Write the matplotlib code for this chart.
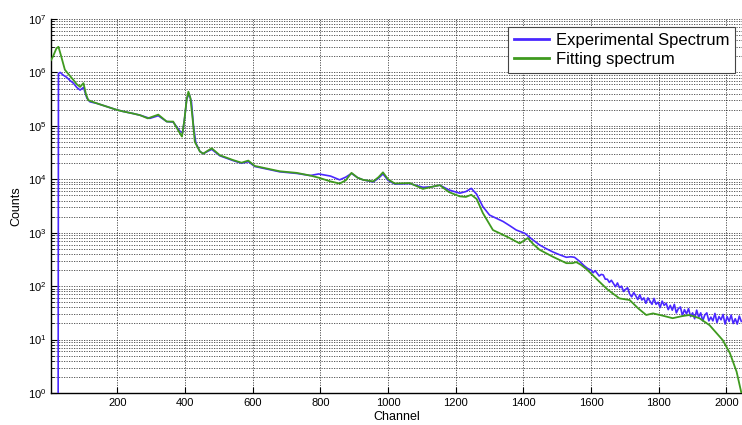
import numpy as np
import matplotlib
matplotlib.use("Agg")
import matplotlib.pyplot as plt
from matplotlib.ticker import FixedLocator, NullFormatter

# -------- Data (channel, log10 counts) --------
# experimental spectrum, smooth part up to channel 1590
exp_channel = [
    25, 26, 31, 40, 50, 60, 70, 80, 90, 100, 110, 119, 140, 169, 198, 217,
    247, 267, 296, 321, 346, 365, 385, 393, 400, 405, 412, 419, 425, 432,
    444, 454, 466, 479, 503, 542, 567, 587, 606, 650, 680, 730, 770, 795,
    830, 857, 875, 892, 910, 926, 956, 972, 985, 1000, 1020, 1064, 1103,
    1130, 1153, 1180, 1212, 1230, 1246, 1262, 1280, 1300, 1320, 1340, 1360,
    1379, 1404, 1425, 1448, 1468, 1487, 1510, 1527, 1540, 1551, 1565, 1580,
    1590,
]
exp_log10 = [
    -1.0, 5.98, 6.00, 5.95, 5.91, 5.85, 5.80, 5.72, 5.67, 5.72, 5.52, 5.45,
    5.42, 5.36, 5.30, 5.27, 5.23, 5.20, 5.14, 5.19, 5.08, 5.07, 4.90, 4.87,
    5.20, 5.50, 5.60, 5.45, 5.00, 4.68, 4.52, 4.48, 4.52, 4.56, 4.44, 4.35,
    4.30, 4.33, 4.24, 4.18, 4.14, 4.11, 4.07, 4.10, 4.06, 3.99, 4.04, 4.11,
    4.03, 3.99, 3.95, 4.02, 4.10, 3.98, 3.91, 3.92, 3.85, 3.86, 3.89, 3.80,
    3.74, 3.77, 3.83, 3.72, 3.49, 3.33, 3.27, 3.21, 3.13, 3.05, 2.99, 2.88,
    2.77, 2.70, 2.64, 2.58, 2.54, 2.55, 2.54, 2.47, 2.38, 2.33,
]

# experimental spectrum, noisy tail (one reading every 6 channels)
tail_channel = list(range(1600, 2045, 6))
tail_log10 = [
    2.30, 2.25, 2.29, 2.24, 2.19, 2.22, 2.21, 2.13, 2.13, 2.07, 2.11, 2.05,
    1.99, 2.06, 1.97, 2.00, 1.90, 1.94, 1.97, 1.85, 1.80, 1.88, 1.82, 1.75,
    1.84, 1.74, 1.78, 1.68, 1.78, 1.72, 1.66, 1.77, 1.66, 1.70, 1.60, 1.72,
    1.64, 1.68, 1.56, 1.64, 1.55, 1.66, 1.50, 1.58, 1.61, 1.45, 1.56, 1.48,
    1.58, 1.43, 1.50, 1.39, 1.55, 1.42, 1.50, 1.35, 1.46, 1.50, 1.35, 1.42,
    1.35, 1.49, 1.32, 1.43, 1.37, 1.47, 1.29, 1.43, 1.34, 1.46, 1.30, 1.39,
    1.29, 1.44, 1.34,
]

fit_channel = [
    4, 10, 20, 26, 32, 45, 58, 70, 80, 90, 100, 107, 114, 140, 169, 198,
    217, 247, 267, 290, 321, 346, 365, 385, 391, 398, 405, 410, 416, 423,
    429, 444, 454, 466, 479, 503, 542, 567, 587, 606, 680, 730, 770, 795,
    830, 857, 875, 892, 910, 926, 956, 972, 985, 1000, 1020, 1064, 1103,
    1130, 1153, 1180, 1212, 1230, 1246, 1262, 1280, 1310, 1350, 1389, 1413,
    1430, 1448, 1487, 1527, 1545, 1556, 1570, 1586, 1596, 1625, 1650, 1684,
    1714, 1740, 1763, 1783, 1810, 1841, 1870, 1891, 1920, 1950, 1989, 2010,
    2030, 2046,
]
fit_log10 = [
    6.23, 6.30, 6.45, 6.48, 6.35, 6.05, 5.95, 5.86, 5.78, 5.73, 5.80, 5.60,
    5.48, 5.42, 5.36, 5.30, 5.27, 5.23, 5.20, 5.14, 5.21, 5.08, 5.08, 4.86,
    4.80, 5.10, 5.50, 5.64, 5.52, 5.10, 4.70, 4.52, 4.48, 4.53, 4.58, 4.45,
    4.36, 4.31, 4.35, 4.25, 4.15, 4.12, 4.07, 4.03, 3.96, 3.92, 3.98, 4.12,
    4.03, 3.99, 3.96, 4.04, 4.13, 4.00, 3.92, 3.93, 3.82, 3.86, 3.89, 3.76,
    3.68, 3.67, 3.71, 3.63, 3.37, 3.05, 2.93, 2.80, 2.90, 2.78, 2.68, 2.55,
    2.43, 2.43, 2.45, 2.40, 2.32, 2.26, 2.08, 1.93, 1.77, 1.74, 1.58, 1.46,
    1.49, 1.45, 1.40, 1.44, 1.46, 1.40, 1.27, 0.99, 0.75, 0.40, -0.05,
]

x_ticks = [200, 400, 600, 800, 1000, 1200, 1400, 1600, 1800, 2000]
y_decades = [1e0, 1e1, 1e2, 1e3, 1e4, 1e5, 1e6, 1e7]

BLUE = "#4a28ff"
GREEN = "#3f9a1f"

plt.rcParams["font.family"] = ["Liberation Sans", "DejaVu Sans"]

fig = plt.figure(figsize=(7.42, 4.25), dpi=100)
ax = fig.add_axes([51 / 742, 32 / 425, 691 / 742, 374 / 425])

exp_x = exp_channel + tail_channel
exp_y = 10.0 ** np.array(exp_log10 + tail_log10)
ax.semilogy(exp_x, exp_y, color=BLUE, lw=1.2,
            label="Experimental Spectrum", zorder=3)
ax.semilogy(fit_channel, 10.0 ** np.array(fit_log10), color=GREEN, lw=1.3,
            label="Fitting spectrum", zorder=4)

ax.set_xlim(4, 2046)
ax.set_ylim(1, 1e7)

# fixed tick lists so nothing outside the view gets a label
minor_y = [k * d for d in y_decades[:-1] for k in range(2, 10)]
ax.xaxis.set_major_locator(FixedLocator(x_ticks))
ax.yaxis.set_major_locator(FixedLocator(y_decades))
ax.yaxis.set_minor_locator(FixedLocator(minor_y))
ax.yaxis.set_minor_formatter(NullFormatter())

grid_style = dict(color="black", linestyle=(0, (1.5, 1.5)), linewidth=0.6, alpha=0.75)
ax.grid(True, which="major", axis="both", **grid_style)
ax.grid(True, which="minor", axis="y", **grid_style)

ax.tick_params(axis="both", which="both", direction="in", labelsize=8)
ax.tick_params(axis="both", which="major", length=4)
ax.tick_params(axis="y", which="minor", length=2)
for side in ("top", "right"):
    ax.spines[side].set_visible(False)
for side in ("left", "bottom"):
    ax.spines[side].set_linewidth(1.0)

ax.set_xlabel("Channel", fontsize=9, labelpad=2)
ax.set_ylabel("Counts", fontsize=9, labelpad=4)

leg = ax.legend(loc="upper right", bbox_to_anchor=(0.99, 0.979), borderaxespad=0,
                fontsize=12, fancybox=False, framealpha=1, edgecolor="#444444",
                handlelength=2.1, borderpad=0.35, labelspacing=0.25,
                handletextpad=0.4)
leg.get_frame().set_linewidth(0.8)
for line in leg.get_lines():
    line.set_linewidth(2.0)

fig.savefig("out.png", dpi=100)
